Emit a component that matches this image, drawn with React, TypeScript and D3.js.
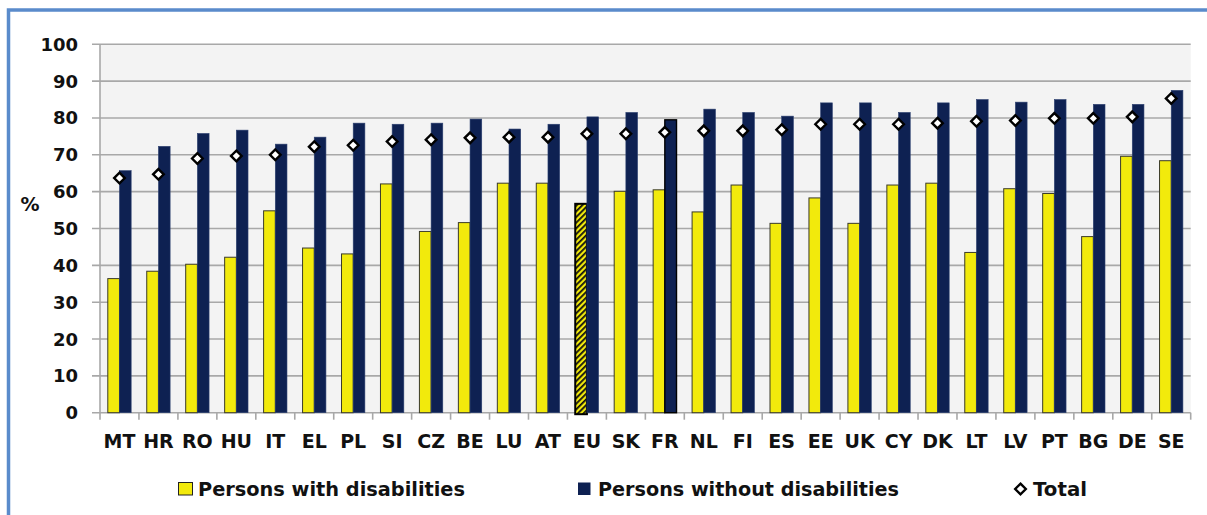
import React from "react";
import * as d3 from "d3";

const categories = ["MT","HR","RO","HU","IT","EL","PL","SI","CZ","BE","LU","AT","EU","SK","FR","NL","FI","ES","EE","UK","CY","DK","LT","LV","PT","BG","DE","SE"];
const withDisabilities = [36.4,38.4,40.3,42.2,54.8,44.7,43.1,62.1,49.2,51.6,62.3,62.3,56.7,60.1,60.5,54.5,61.8,51.4,58.3,51.4,61.8,62.3,43.5,60.8,59.5,47.8,69.6,68.4];
const withoutDisabilities = [65.7,72.3,75.8,76.7,72.9,74.8,78.6,78.3,78.6,79.7,77.0,78.3,80.3,81.5,79.5,82.4,81.5,80.5,84.1,84.1,81.5,84.1,85.0,84.3,85.0,83.7,83.7,87.5];
const total = [63.7,64.7,69.0,69.7,70.0,72.2,72.6,73.6,74.1,74.6,74.8,74.8,75.7,75.7,76.1,76.5,76.5,76.8,78.3,78.3,78.3,78.6,79.1,79.3,79.9,79.9,80.3,85.3];
const yTicks = [0,10,20,30,40,50,60,70,80,90,100];
const highlight = "EU";
const outlinedNavy = "FR";

const W = 1207, H = 515;
const left = 100, right = 1190.7, top = 44.3, bottom = 412.7;
const YELLOW = "#f2ea0c";
const NAVY = "#0e2152";
const FONT = "'DejaVu Sans', Verdana, sans-serif";

export default function App() {
  const x = d3.scaleBand<string>().domain(categories).range([left, right]).padding(0);
  const y = d3.scaleLinear().domain([0, 100]).range([bottom, top]);
  const bw = x.bandwidth() * 0.3;
  const diamond = d3.symbol().type(d3.symbolDiamond2).size(72)();

  return (
    <svg width={W} height={H} style={{ position: "absolute", left: 0, top: 0, background: "#fff" }}>
      <defs>
        <pattern id="hatch" width="4" height="4" patternUnits="userSpaceOnUse" patternTransform="rotate(45)">
          <rect width="4" height="4" fill={YELLOW} />
          <rect width="1.8" height="4" fill="#111" />
        </pattern>
      </defs>
      {/* outer frame */}
      <rect x={8.5} y={10} width={1400} height={700} fill="none" stroke="#5a8bcb" strokeWidth={3.5} />
      {/* plot area */}
      <rect x={left} y={top} width={right - left} height={bottom - top} fill="#f3f3f3" />
      {yTicks.map((t) => (
        <g key={t}>
          <line x1={left - 8} x2={right} y1={y(t)} y2={y(t)} stroke="#a8a8a8" strokeWidth={1.6} />
          <text x={78} y={y(t)} dy="0.36em" textAnchor="end" fontFamily={FONT} fontWeight="bold" fontSize={18} fill="#111">{t}</text>
        </g>
      ))}
      <line x1={left} x2={left} y1={top} y2={bottom} stroke="#a8a8a8" strokeWidth={1.6} />
      {categories.map((c) => (
        <line key={"tk" + c} x1={x(c)!} x2={x(c)!} y1={bottom} y2={bottom + 7} stroke="#a8a8a8" strokeWidth={1.6} />
      ))}
      <line x1={right} x2={right} y1={bottom} y2={bottom + 7} stroke="#a8a8a8" strokeWidth={1.6} />
      <text x={30} y={204} dy="0.36em" textAnchor="middle" fontFamily={FONT} fontWeight="bold" fontSize={19} fill="#111">%</text>

      {categories.map((c, i) => {
        const cx = x(c)! + x.bandwidth() / 2;
        const isHi = c === highlight;
        const outl = c === outlinedNavy;
        return (
          <g key={c}>
            <rect x={cx - bw} y={y(withDisabilities[i])} width={bw} height={y(0) - y(withDisabilities[i]) + (isHi ? 1.5 : 0)}
              fill={isHi ? "url(#hatch)" : YELLOW} stroke={isHi ? "#000" : "#3a3a2a"} strokeWidth={isHi ? 2 : 1} />
            <rect x={cx} y={y(withoutDisabilities[i])} width={bw} height={y(0) - y(withoutDisabilities[i])}
              fill={NAVY} stroke={outl ? "#000" : "#2c4070"} strokeWidth={outl ? 1.4 : 0.6} />
            <path d={diamond!} transform={`translate(${cx},${y(total[i])})`} fill="#fff" stroke="#000" strokeWidth={2.4} />
            <text x={cx} y={448} textAnchor="middle" fontFamily={FONT} fontWeight="bold" fontSize={19} fill="#111">{c}</text>
          </g>
        );
      })}

      {/* legend */}
      <rect x={178.5} y={482.5} width={14} height={12.5} fill={YELLOW} stroke="#222" strokeWidth={1} />
      <text x={198} y={495.5} fontFamily={FONT} fontWeight="bold" fontSize={19} fill="#111" textLength={267} lengthAdjust="spacingAndGlyphs">Persons with disabilities</text>
      <rect x={578} y={482.5} width={12.5} height={12.5} fill={NAVY} />
      <text x={598} y={495.5} fontFamily={FONT} fontWeight="bold" fontSize={19} fill="#111" textLength={301} lengthAdjust="spacingAndGlyphs">Persons without disabilities</text>
      <path d={diamond!} transform="translate(1020.5,489)" fill="#fff" stroke="#000" strokeWidth={2.4} />
      <text x={1033} y={495.5} fontFamily={FONT} fontWeight="bold" fontSize={19} fill="#111" textLength={54} lengthAdjust="spacingAndGlyphs">Total</text>
    </svg>
  );
}
